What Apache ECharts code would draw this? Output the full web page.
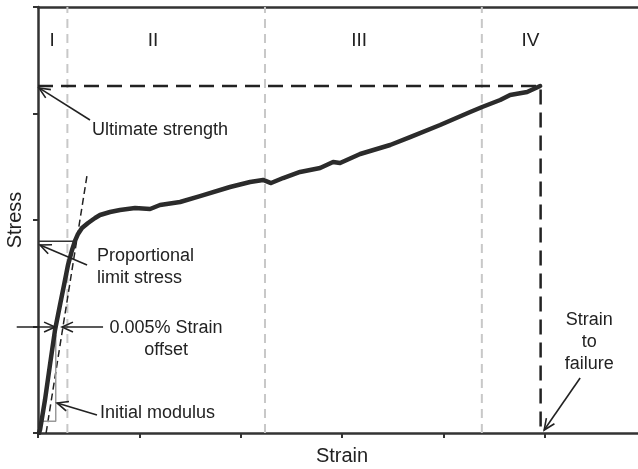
<!DOCTYPE html>
<html>
<head>
<meta charset="utf-8">
<script src="https://cdn.jsdelivr.net/npm/echarts@6/dist/echarts.min.js"></script>
<style>html,body{margin:0;padding:0;background:#fff;}#chart{width:638px;height:469px;}</style>
</head>
<body>
<div id="chart"></div>
<script>
// Stress-strain curve (arbitrary units: strain in x-tick units, stress in y-tick units)
const curveStrain = [0.01,0.02,0.069,0.118,0.168,0.217,0.257,0.296,0.336,0.365,0.395,0.434,0.494,0.563,0.612,0.711,0.809,0.958,1.106,1.204,1.402,1.599,1.895,2.093,2.221,2.300,2.419,2.586,2.784,2.912,2.981,3.179,3.475,3.672,3.968,4.265,4.383,4.561,4.659,4.827,4.955];
const curveStress = [0.0,0.03,0.31,0.638,0.967,1.202,1.390,1.577,1.718,1.803,1.869,1.925,1.972,2.019,2.047,2.075,2.094,2.113,2.103,2.141,2.169,2.225,2.310,2.357,2.376,2.347,2.394,2.451,2.488,2.545,2.535,2.620,2.704,2.779,2.892,3.014,3.061,3.127,3.174,3.202,3.258];

const regionBounds = [0.29, 2.24, 4.38];
const regionLabels = ['I', 'II', 'III', 'IV'];
const regionLabelStrain = [0.14, 1.135, 3.17, 4.86];
const regionLabelStress = 3.68;

const ultimateStress = 3.258;
const failureStrain = 4.96;
const propLimitStress = 1.80;
const propLimitStrain = 0.365;
const offsetLineStrain = [0.08, 0.484];
const offsetLineStress = [0, 2.42];
const modulusStrain = [0.04, 0.175, 0.175];
const modulusStress = [0.11, 0.11, 0.92];

const annotationTexts = ['Ultimate strength', 'Proportional\nlimit stress', '0.005% Strain\noffset', 'Initial modulus', 'Strain\nto\nfailure'];
const annotationStrain = [0.533, 0.582, 1.264, 0.612, 5.439];
const annotationStress = [2.845, 1.563, 0.878, 0.188, 0.854];
const annotationAlign = ['left', 'left', 'center', 'left', 'center'];

// arrows: tail strain, tail stress, tip strain, tip stress
const arrowTailStrain = [0.513, 0.484, -0.21, 0.642, 0.582, 5.35];
const arrowTailStress = [2.939, 1.577, 0.995, 0.995, 0.169, 0.516];
const arrowTipStrain = [0.01, 0.02, 0.168, 0.237, 0.188, 4.995];
const arrowTipStress = [3.24, 1.765, 0.995, 0.995, 0.282, 0.028];

const xTicks = [0, 1, 2, 3, 4, 5, 6];
const yTicks = [0, 1, 2, 3, 4];

const FONT = '"Liberation Sans", Arial, Helvetica, sans-serif';
const chart = echarts.init(document.getElementById('chart'));

const series = [];
regionBounds.forEach(function (s) {
  series.push({
    type: 'line', data: [[s, 0], [s, yTicks[yTicks.length - 1]]], showSymbol: false, silent: true, z: 1,
    lineStyle: { color: '#c8c8c8', width: 2, type: [9, 6] }
  });
});
series.push({
  type: 'line', data: [[0, ultimateStress], [failureStrain, ultimateStress], [failureStrain, 0]], showSymbol: false, z: 2,
  lineStyle: { color: '#222', width: 2.5, type: [15, 8] }
});
series.push({
  type: 'line', data: offsetLineStrain.map(function (s, i) { return [s, offsetLineStress[i]]; }), showSymbol: false, z: 2,
  lineStyle: { color: '#222', width: 1.5, type: [7, 4] }
});
series.push({
  type: 'line', data: [[0, propLimitStress], [propLimitStrain, propLimitStress]], showSymbol: false, z: 2,
  lineStyle: { color: '#333', width: 1.5 }
});
series.push({
  type: 'line', data: modulusStrain.map(function (s, i) { return [s, modulusStress[i]]; }), showSymbol: false, z: 2,
  lineStyle: { color: '#999', width: 1.5 }
});
series.push({
  type: 'line', data: curveStrain.map(function (s, i) { return [s, curveStress[i]]; }), showSymbol: false, z: 5,
  lineStyle: { color: '#2b2b2b', width: 4.5, join: 'round', cap: 'round' }
});
series.push({
  type: 'custom', z: 6,
  data: arrowTailStrain.map(function (s, i) { return [s, arrowTailStress[i], arrowTipStrain[i], arrowTipStress[i]]; }),
  renderItem: function (params, api) {
    const p0 = api.coord([api.value(0), api.value(1)]);
    const p1 = api.coord([api.value(2), api.value(3)]);
    const ang = Math.atan2(p0[1] - p1[1], p0[0] - p1[0]);
    const L = 12, a = 0.42;
    const w1 = [p1[0] + L * Math.cos(ang + a), p1[1] + L * Math.sin(ang + a)];
    const w2 = [p1[0] + L * Math.cos(ang - a), p1[1] + L * Math.sin(ang - a)];
    const st = { stroke: '#222', lineWidth: 1.6, fill: null };
    return {
      type: 'group', children: [
        { type: 'line', shape: { x1: p0[0], y1: p0[1], x2: p1[0], y2: p1[1] }, style: st },
        { type: 'polyline', shape: { points: [w1, p1, w2] }, style: st }
      ]
    };
  }
});
series.push({
  type: 'custom', z: 7,
  data: annotationStrain.map(function (s, i) { return [s, annotationStress[i], i]; }),
  renderItem: function (params, api) {
    const p = api.coord([api.value(0), api.value(1)]);
    const i = api.value(2);
    return {
      type: 'text', x: p[0], y: p[1],
      style: { text: annotationTexts[i], fontSize: 18, fontFamily: FONT, fill: '#222', align: annotationAlign[i], verticalAlign: 'middle', lineHeight: 22 }
    };
  }
});
series.push({
  type: 'custom', z: 7,
  data: regionLabelStrain.map(function (s, i) { return [s, regionLabelStress, i]; }),
  renderItem: function (params, api) {
    const p = api.coord([api.value(0), api.value(1)]);
    const i = api.value(2);
    return {
      type: 'text', x: p[0], y: p[1],
      style: { text: regionLabels[i], fontSize: 19, fontFamily: FONT, fill: '#222', align: 'center', verticalAlign: 'middle' }
    };
  }
});

chart.setOption({
  animation: false,
  grid: { left: 38, right: -8, top: 7, bottom: 36, containLabel: false, outerBoundsMode: 'none' },
  xAxis: [{
    type: 'value', min: xTicks[0], max: xTicks[xTicks.length - 1], interval: 1,
    name: 'Strain', nameLocation: 'middle', nameGap: 13,
    nameTextStyle: { fontSize: 20, fontFamily: FONT, color: '#222' },
    axisLine: { show: true, onZero: false, lineStyle: { color: '#333', width: 2.5 } },
    axisTick: { show: true, length: 5, lineStyle: { color: '#333', width: 2 } },
    axisLabel: { show: false }, splitLine: { show: false }
  }, {
    type: 'value', position: 'top', min: xTicks[0], max: xTicks[xTicks.length - 1],
    axisLine: { show: true, onZero: false, lineStyle: { color: '#333', width: 2.5 } },
    axisTick: { show: false }, axisLabel: { show: false }, splitLine: { show: false }
  }],
  yAxis: {
    type: 'value', min: yTicks[0], max: yTicks[yTicks.length - 1], interval: 1,
    name: 'Stress', nameLocation: 'middle', nameGap: 13,
    nameTextStyle: { fontSize: 20, fontFamily: FONT, color: '#222' },
    axisLine: { show: true, onZero: false, lineStyle: { color: '#333', width: 2.5 } },
    axisTick: { show: true, length: 5, lineStyle: { color: '#333', width: 2 } },
    axisLabel: { show: false }, splitLine: { show: false }
  },
  series: series
});
</script>
</body>
</html>
